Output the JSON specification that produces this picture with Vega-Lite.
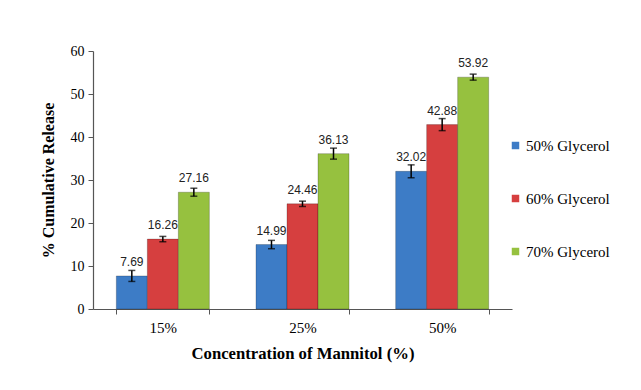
{
  "$schema": "https://vega.github.io/schema/vega-lite/v6.json",
  "width": 419,
  "height": 258,
  "autosize": {"type": "none"},
  "padding": {"left": 93, "top": 51, "right": 129, "bottom": 81},
  "background": "white",
  "config": {
    "view": {"stroke": null},
    "font": "Liberation Serif",
    "legend": {"labelFont": "Liberation Serif", "labelFontSize": 15, "labelColor": "black"},
    "axis": {"labelFont": "Liberation Serif", "titleFont": "Liberation Serif"}
  },
  "data": {"values": [
    {"mannitol": "15%", "series": "50% Glycerol", "value": 7.69, "lo": 6.41, "hi": 8.97},
    {"mannitol": "15%", "series": "60% Glycerol", "value": 16.26, "lo": 15.64, "hi": 16.88},
    {"mannitol": "15%", "series": "70% Glycerol", "value": 27.16, "lo": 26.23, "hi": 28.09},
    {"mannitol": "25%", "series": "50% Glycerol", "value": 14.99, "lo": 14.02, "hi": 15.96},
    {"mannitol": "25%", "series": "60% Glycerol", "value": 24.46, "lo": 23.84, "hi": 25.08},
    {"mannitol": "25%", "series": "70% Glycerol", "value": 36.13, "lo": 34.85, "hi": 37.41},
    {"mannitol": "50%", "series": "50% Glycerol", "value": 32.02, "lo": 30.52, "hi": 33.52},
    {"mannitol": "50%", "series": "60% Glycerol", "value": 42.88, "lo": 41.48, "hi": 44.28},
    {"mannitol": "50%", "series": "70% Glycerol", "value": 53.92, "lo": 53.22, "hi": 54.62}
  ]},
  "encoding": {
    "x": {
      "field": "mannitol", "type": "nominal", "sort": null,
      "scale": {"paddingInner": 0.334, "paddingOuter": 0.167},
      "axis": {
        "title": "Concentration of Mannitol (%)",
        "titleFontSize": 16.7, "titleFontWeight": "bold", "titleColor": "black",
        "titlePadding": 10,
        "labelAngle": 0, "labelFontSize": 15, "labelColor": "black", "labelPadding": 6,
        "tickBand": "extent", "tickSize": 5, "tickColor": "#555", "domainColor": "#555", "domainWidth": 1.2
      }
    },
    "xOffset": {"field": "series", "type": "nominal", "scale": {"paddingInner": 0, "paddingOuter": 0}}
  },
  "layer": [
    {
      "mark": {"type": "bar", "strokeWidth": 1, "stroke": "black", "strokeOpacity": 0.22},
      "encoding": {
        "y": {
          "field": "value", "type": "quantitative",
          "scale": {"domain": [0, 60]},
          "axis": {
            "title": "% Cumulative Release", "values": [0, 10, 20, 30, 40, 50, 60],
            "titleFontSize": 16, "titleFontWeight": "bold", "titleColor": "black",
            "titlePadding": 14,
            "labelFontSize": 14, "labelColor": "black", "labelPadding": 4,
            "grid": false, "tickSize": 5, "tickColor": "#555", "domainColor": "#555", "domainWidth": 1.2
          }
        },
        "color": {
          "field": "series", "type": "nominal",
          "scale": {"range": ["#3d7cc6", "#d63f3f", "#96c13f"]},
          "legend": {
            "title": null, "orient": "none", "legendX": 415, "legendY": 87,
            "symbolType": "square", "symbolSize": 56, "symbolStrokeWidth": 0,
            "labelOffset": 3, "rowPadding": 37, "padding": 0
          }
        }
      }
    },
    {
      "mark": {"type": "rule", "color": "black", "strokeWidth": 1.5},
      "encoding": {
        "y": {"field": "lo", "type": "quantitative"},
        "y2": {"field": "hi"}
      }
    },
    {
      "mark": {"type": "tick", "color": "black", "size": 7, "thickness": 1.5, "orient": "horizontal"},
      "encoding": {"y": {"field": "lo", "type": "quantitative"}}
    },
    {
      "mark": {"type": "tick", "color": "black", "size": 7, "thickness": 1.5, "orient": "horizontal"},
      "encoding": {"y": {"field": "hi", "type": "quantitative"}}
    },
    {
      "mark": {"type": "text", "font": "Liberation Sans", "fontSize": 12, "color": "#222", "baseline": "bottom", "dy": -7},
      "encoding": {
        "y": {"field": "value", "type": "quantitative"},
        "text": {"field": "value", "type": "quantitative", "format": ".2f"}
      }
    }
  ]
}
